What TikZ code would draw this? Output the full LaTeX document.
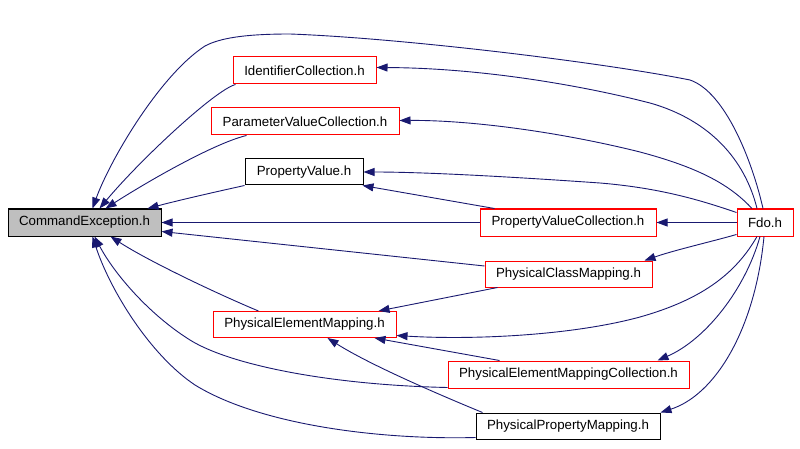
\documentclass[tikz,border=0pt]{standalone}
\usepackage{fontspec}
\setmainfont{Liberation Sans}
\usetikzlibrary{arrows.meta}
\definecolor{edgeblue}{RGB}{25,25,112}
\definecolor{boxred}{RGB}{255,0,0}
\definecolor{cefill}{RGB}{191,191,191}
\tikzset{
  box/.style={draw, line width=1pt, inner sep=0pt, anchor=center, font=\fontsize{13.3}{15}\selectfont},
  redbox/.style={box, draw=boxred},
  blackbox/.style={box, draw=black},
  edge/.style={draw=edgeblue, line width=0.9pt, -{Triangle[length=11pt,width=8pt]}, color=edgeblue}
}
\begin{document}
\begin{tikzpicture}[x=1pt,y=-1pt]
\useasboundingbox (0,0) rectangle (800,449);
% nodes
\node[blackbox, fill=cefill, minimum width=153pt, minimum height=27pt] (CE) at (84.5,222.5) {CommandException.h};
\node[redbox, minimum width=143pt, minimum height=27pt] (IC) at (304.5,70.5) {IdentifierCollection.h};
\node[redbox, minimum width=188pt, minimum height=27pt] (PVC) at (305,121.5) {ParameterValueCollection.h};
\node[blackbox, minimum width=118pt, minimum height=26pt] (PV) at (304,172) {PropertyValue.h};
\node[redbox, minimum width=176pt, minimum height=27pt] (PVCol) at (568,222.5) {PropertyValueCollection.h};
\node[redbox, minimum width=56pt, minimum height=27pt] (Fdo) at (765,222.5) {Fdo.h};
\node[redbox, minimum width=167pt, minimum height=26pt] (PCM) at (568.5,274) {PhysicalClassMapping.h};
\node[redbox, minimum width=183pt, minimum height=26pt] (PEM) at (304.5,324.5) {PhysicalElementMapping.h};
\node[redbox, minimum width=241pt, minimum height=27pt] (PEMC) at (568.5,374.5) {PhysicalElementMappingCollection.h};
\node[blackbox, minimum width=184pt, minimum height=26pt] (PPM) at (568,426) {PhysicalPropertyMapping.h};
% edges into CommandException.h
\draw[edge] ([xshift=-2]Fdo.north) .. controls (752,160) and (725,92) .. (690,80)
  .. controls (600,62) and (400,38) .. (290,34)
  .. controls (245,34) and (220,38) .. (205,46)
  .. controls (160,75) and (110,160) .. ([xshift=8]CE.north);
\draw[edge] ([xshift=3]IC.south west) .. controls (215,90) and (140,160) .. ([xshift=15]CE.north);
\draw[edge] ([xshift=36]PVC.south west) .. controls (215,143) and (150,180) .. ([xshift=21]CE.north);
\draw[edge] (PV.south west) .. controls (215,192) and (180,200) .. ([xshift=-14]CE.north east);
\draw[edge] (PVCol.west) -- (CE.east);
\draw[edge] ([yshift=8]PCM.west) -- ([yshift=-9]CE.east);
\draw[edge] ([xshift=-46]PEM.north) .. controls (220,295) and (150,262) .. ([xshift=26]CE.south);
\draw[edge] ([yshift=1]PEMC.south west) .. controls (330,385) and (230,365) .. (190,340)
  .. controls (150,315) and (115,275) .. ([xshift=10]CE.south);
\draw[edge] ([yshift=2]PPM.south west) .. controls (380,440) and (260,425) .. (195,385)
  .. controls (150,355) and (110,290) .. ([xshift=8]CE.south);
% edges from Fdo.h
\draw[edge] ([xshift=-8]Fdo.north) .. controls (745,160) and (710,120) .. (650,103)
  .. controls (580,85) and (480,68) .. ([yshift=3]IC.east);
\draw[edge] ([xshift=-13]Fdo.north) .. controls (730,185) and (700,168) .. (640,152)
  .. controls (560,132) and (470,120) .. ([yshift=1]PVC.east);
\draw[edge] ([yshift=10]Fdo.west) .. controls (700,200) and (660,188) .. (600,183)
  .. controls (500,176) and (420,172) .. (PV.east);
\draw[edge] (Fdo.west) -- (PVCol.east);
\draw[edge] ([yshift=2]Fdo.south west) .. controls (710,242) and (675,250) .. ([xshift=-8]PCM.north east);
\draw[edge] ([xshift=-8]Fdo.south) .. controls (735,275) and (700,300) .. (640,317)
  .. controls (570,336) and (470,340) .. ([yshift=-11]PEM.east);
\draw[edge] ([xshift=-5]Fdo.south) .. controls (745,290) and (705,340) .. ([xshift=-32]PEMC.north east);
\draw[edge] ([xshift=-1]Fdo.south) .. controls (755,330) and (715,395) .. (PPM.north east);
% other edges
\draw[edge] ([xshift=15]PVCol.north west) -- ([xshift=-1]PV.south east);
\draw[edge] ([xshift=13]PCM.south west) -- ([xshift=-18]PEM.north east);
\draw[edge] ([xshift=52]PEMC.north west) -- ([xshift=-22]PEM.south east);
\draw[edge] ([xshift=7]PPM.north west) .. controls (440,395) and (370,365) .. ([xshift=23]PEM.south);
\end{tikzpicture}
\end{document}
